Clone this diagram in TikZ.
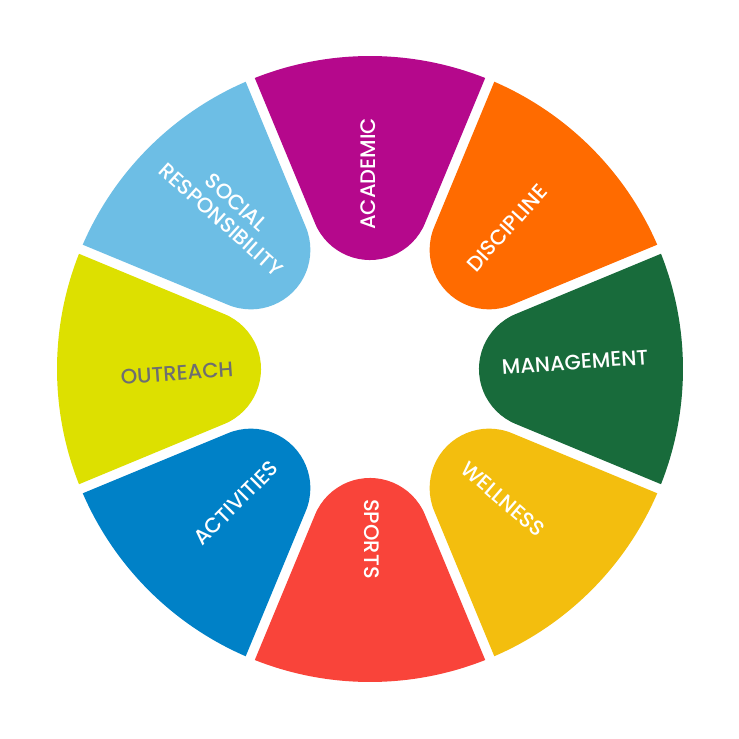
\documentclass[tikz,border=0pt]{standalone}
\usepackage{fontspec}
\setmainfont{Poppins Medium}
\definecolor{cAcad}{HTML}{B5088C}
\definecolor{cDisc}{HTML}{FF6B00}
\definecolor{cMgmt}{HTML}{186B3B}
\definecolor{cWell}{HTML}{F3BE0E}
\definecolor{cSport}{HTML}{F9443A}
\definecolor{cAct}{HTML}{0081C7}
\definecolor{cOut}{HTML}{DDE000}
\definecolor{cSoc}{HTML}{6DBEE5}
\definecolor{cGrayTxt}{HTML}{6D6E71}
\tikzset{
  petal/.style={draw=none},
  lbl/.style={text=white, font=\fontsize{21}{23}\selectfont, inner sep=0pt, align=center}
}
\newcommand{\petal}[2]{%
  \fill[#2, rotate=#1] (145.8,-55.0) -- (291.0,-115.2)
    arc[start angle=-21.6, end angle=21.6, radius=313]
    -- (145.8,55.0)
    arc[start angle=112.4, end angle=247.6, radius=59.5] -- cycle;}
\begin{document}
\begin{tikzpicture}[x=1pt,y=1pt]
\useasboundingbox[fill=white] (-370,-370) rectangle (369,369);
\petal{90}{cAcad}
\petal{45}{cDisc}
\petal{0}{cMgmt}
\petal{-45}{cWell}
\petal{-90}{cSport}
\petal{-135}{cAct}
\petal{180}{cOut}
\petal{135}{cSoc}
\node[lbl, rotate=90] (acad) at (-2,195) {ACADEMIC};
\node[lbl, rotate=48] (disc) at (137,141) {DISCIPLINE};
\node[lbl, rotate=4] (mgmt) at (205,7) {MANAGEMENT};
\node[lbl, rotate=-41] (well) at (133,-130) {WELLNESS};
\node[lbl, rotate=-90] (sport) at (2,-170) {SPORTS};
\node[lbl, rotate=45] (act) at (-134,-134) {ACTIVITIES};
\node[lbl, rotate=4, text=cGrayTxt] (out) at (-193,-4) {OUTREACH};
\node[lbl, rotate=-42] (soc) at (-141,158) {SOCIAL\\RESPONSIBILITY};
\end{tikzpicture}
\end{document}
